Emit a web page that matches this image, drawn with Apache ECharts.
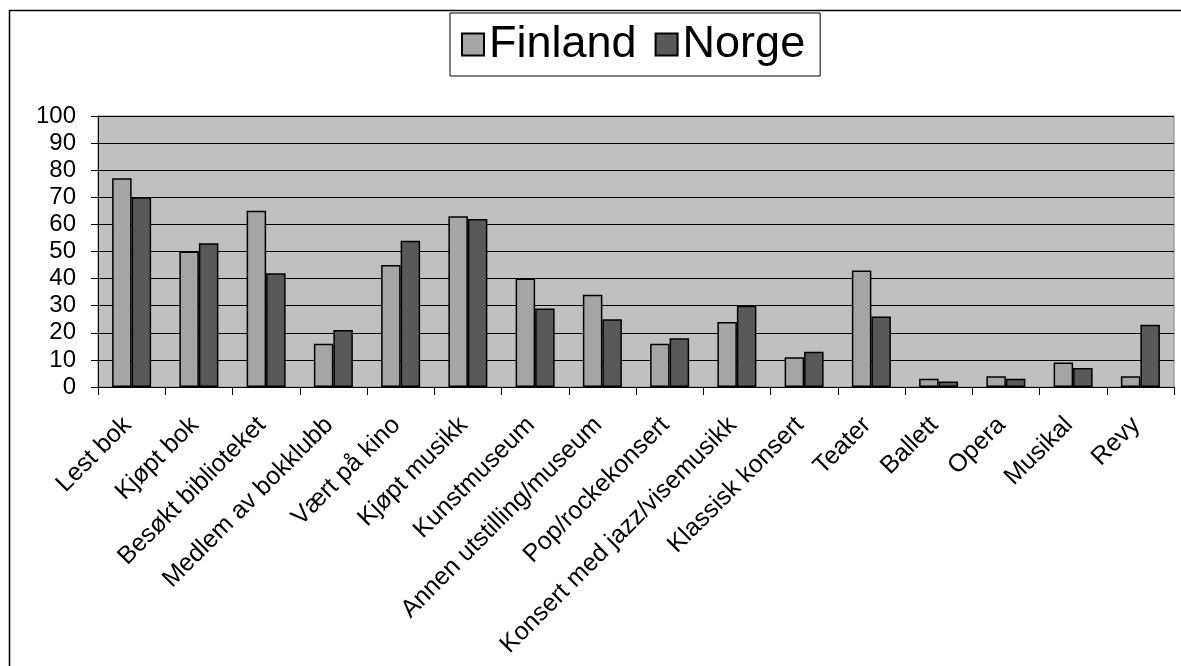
<!DOCTYPE html>
<html>
<head>
<meta charset="utf-8">
<script src="https://cdn.jsdelivr.net/npm/echarts@6/dist/echarts.min.js"></script>
<style>
html,body{margin:0;padding:0;background:#fff;}
#chart{width:1181px;height:666px;}
</style>
</head>
<body>
<div id="chart"></div>
<script>
const categories = ["Lest bok","Kjøpt bok","Besøkt biblioteket","Medlem av bokklubb","Vært på kino","Kjøpt musikk","Kunstmuseum","Annen utstilling/museum","Pop/rockekonsert","Konsert med jazz/visemusikk","Klassisk konsert","Teater","Ballett","Opera","Musikal","Revy"];
const finland = [77,50,65,16,45,63,40,34,16,24,11,43,3,4,9,4];
const norge   = [70,53,42,21,54,62,29,25,18,30,13,26,2,3,7,23];
const yTicks = [0,10,20,30,40,50,60,70,80,90,100];

const chart = echarts.init(document.getElementById('chart'), null, {renderer:'canvas'});
const font = 'Liberation Sans, Arial, sans-serif';
chart.setOption({
  backgroundColor:'#ffffff',
  animation:false,
  graphic:[{
    type:'rect', left:7, top:8, z:-10,
    shape:{width:1200, height:700},
    style:{fill:'none', stroke:'#000', lineWidth:1.5}
  }],
  legend:{
    left:450, top:13,
    data:['Finland','Norge'],
    icon:'rect', itemWidth:22, itemHeight:22, itemGap:18,
    borderColor:'#000', borderWidth:1, backgroundColor:'#fff',
    padding:[9,15,9,11],
    textStyle:{fontFamily:font, fontSize:45, color:'#000'}
  },
  grid:{left:98, right:7, top:116, bottom:279, show:true, backgroundColor:'#c0c0c0', borderColor:'#808080', borderWidth:1},
  xAxis:{
    type:'category', data:categories, boundaryGap:true,
    axisLine:{lineStyle:{color:'#000', width:1}},
    axisTick:{show:true, interval:0, length:8, lineStyle:{color:'#000'}},
    axisLabel:{interval:0, rotate:45, fontFamily:font, fontSize:25, color:'#000', margin:30, padding:[0,6,0,0]}
  },
  yAxis:{
    type:'value', min:0, max:100, interval:10,
    axisLine:{show:true, lineStyle:{color:'#000', width:1}},
    axisTick:{show:true, length:7, lineStyle:{color:'#000'}},
    axisLabel:{fontFamily:font, fontSize:24, color:'#000', margin:22},
    splitLine:{show:true, lineStyle:{color:'#000', width:1}}
  },
  series:[
    {name:'Finland', type:'bar', data:finland, barGap:'0%', barCategoryGap:'42%',
     itemStyle:{color:'#a5a5a5', borderColor:'#000', borderWidth:1.5}},
    {name:'Norge', type:'bar', data:norge, barGap:'0%', barCategoryGap:'42%',
     itemStyle:{color:'#595959', borderColor:'#000', borderWidth:1.5}}
  ]
});
</script>
</body>
</html>
